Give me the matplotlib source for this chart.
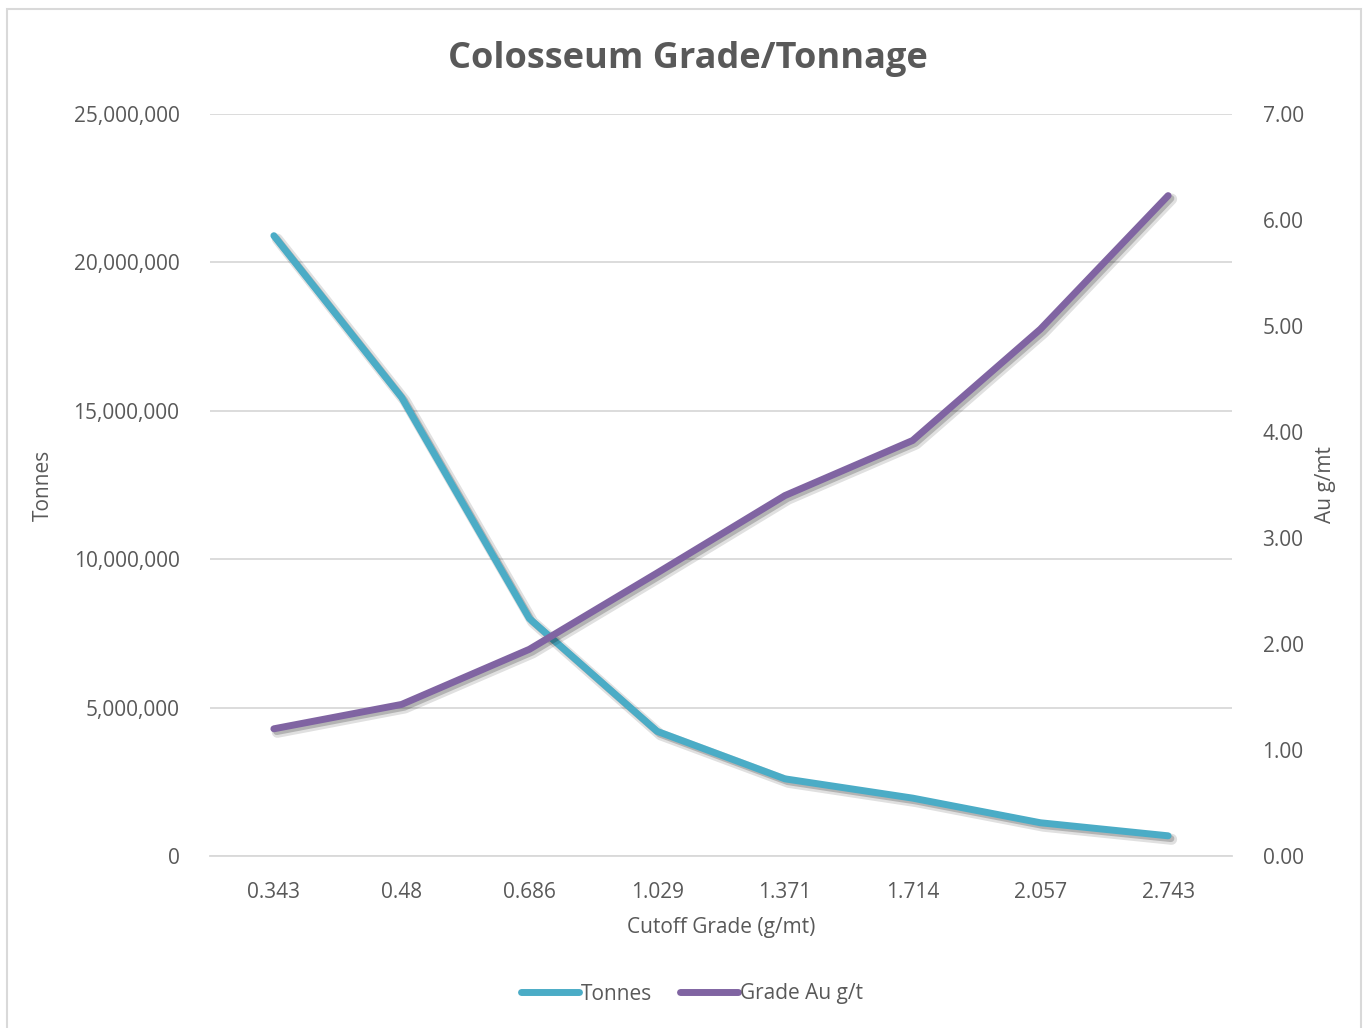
import matplotlib
matplotlib.use("Agg")
import matplotlib.pyplot as plt
import matplotlib.patheffects as pe
from matplotlib.ticker import FuncFormatter, MultipleLocator
from matplotlib.patches import Rectangle

plt.rcParams['font.family'] = ['Open Sans', 'DejaVu Sans']

# data
cutoff = ["0.343", "0.48", "0.686", "1.029", "1.371", "1.714", "2.057", "2.743"]
tonnes = [20900000, 15450000, 8000000, 4200000, 2600000, 1950000, 1120000, 680000]
grade = [1.20, 1.43, 1.95, 2.67, 3.40, 3.92, 4.97, 6.23]

teal = "#4BACC6"
purple = "#8064A2"
txt = "#595959"
grid = "#D9D9D9"

fig = plt.figure(figsize=(13.7, 10.28), dpi=100)
fig.patches.append(Rectangle((7 / 1370, -0.01), (1361 - 7) / 1370, 1.01 - 9 / 1028,
                             transform=fig.transFigure, fill=False, edgecolor=grid, lw=1.5))

ax = fig.add_axes([210 / 1370, 1 - 856 / 1028, (1232 - 210) / 1370, (856 - 114) / 1028])
ax2 = ax.twinx()

x = list(range(len(cutoff)))
# soft drop shadow like the excel one
shadow = [pe.SimpleLineShadow(offset=(2.5, -2.5), shadow_color="#000000", alpha=0.12, linewidth=8),
          pe.SimpleLineShadow(offset=(2, -2), shadow_color="#000000", alpha=0.2),
          pe.Normal()]

l1, = ax.plot(x, tonnes, color=teal, lw=5, solid_capstyle="round", solid_joinstyle="round",
              path_effects=shadow, label="Tonnes", zorder=3)
l2, = ax2.plot(x, grade, color=purple, lw=5, solid_capstyle="round", solid_joinstyle="round",
               path_effects=shadow, label="Grade Au g/t", zorder=3)

ax.set_xlim(-0.5, len(cutoff) - 0.5)
ax.set_ylim(0, 25000000)
ax2.set_ylim(0, 7)
ax.yaxis.set_major_locator(MultipleLocator(5000000))
ax2.yaxis.set_major_locator(MultipleLocator(1))
ax.yaxis.set_major_formatter(FuncFormatter(lambda v, p: f"{int(v):,}"))
ax2.yaxis.set_major_formatter(FuncFormatter(lambda v, p: f"{v:.2f}"))
ax.set_xticks(x)
ax.set_xticklabels(cutoff)

ax.grid(axis="y", color=grid, lw=1.3)
ax.set_axisbelow(True)
for a in (ax, ax2):
    for s in a.spines.values():
        s.set_visible(False)
    a.tick_params(length=0, labelsize=15, colors=txt)
ax.spines["bottom"].set_visible(True)
ax.spines["bottom"].set_color(grid)
ax.spines["bottom"].set_linewidth(1.3)
ax.tick_params(axis="y", pad=22)
ax.tick_params(axis="x", pad=19)
ax2.tick_params(axis="y", pad=22)

ax.set_xlabel("Cutoff Grade (g/mt)", fontsize=15, color=txt, labelpad=10)
ax.set_ylabel("Tonnes", fontsize=15, color=txt, labelpad=14)
ax2.set_ylabel("Au g/mt", fontsize=15, color=txt, labelpad=8)

fig.text(0.502, 1 - 59 / 1028, "Colosseum Grade/Tonnage", ha="center", va="center",
         fontsize=26, fontweight="bold", color=txt)

leg = fig.legend(handles=[l1, l2], loc="center", bbox_to_anchor=(0.505, 1 - 994 / 1028),
                 ncol=2, frameon=False, fontsize=15, handlelength=2.8, handletextpad=0.1,
                 columnspacing=1.3)
for t in leg.get_texts():
    t.set_color(txt)
for h in leg.legend_handles:
    h.set_path_effects([])

fig.savefig("out.png", dpi=100)
